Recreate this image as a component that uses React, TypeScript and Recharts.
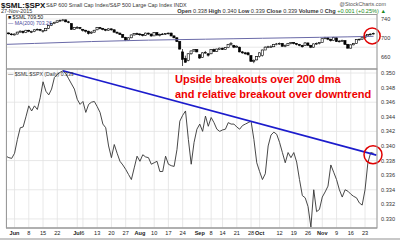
import React from 'react';
import { ComposedChart, Line, Bar, XAxis, YAxis, CartesianGrid, ReferenceLine, ReferenceDot } from 'recharts';

// trading-day index: 0 = 1-Jun-2015, -3 = 27-May-2015, 126 = 27-Nov-2015
const firstDay = -3;

const ratioValues = [
  0.3386, 0.3384, 0.3383, 0.3390, 0.3409, 0.3425, 0.3426, 0.3440, 0.3455, 0.3448,
  0.3455, 0.3450, 0.3466, 0.3488, 0.3475, 0.3470, 0.3478, 0.3494, 0.3498, 0.3501,
  0.3503, 0.3499, 0.3492, 0.3485, 0.3478, 0.3464, 0.3457, 0.3461, 0.3446, 0.3457,
  0.3460, 0.3461, 0.3454, 0.3446, 0.3430, 0.3425, 0.3400, 0.3384, 0.3402, 0.3390,
  0.3379, 0.3374, 0.3368, 0.3361, 0.3354, 0.3370, 0.3386, 0.3379, 0.3388, 0.3385,
  0.3384, 0.3375, 0.3377, 0.3379, 0.3365, 0.3365, 0.3386, 0.3375, 0.3373, 0.3372,
  0.3395, 0.3434, 0.3442, 0.3448, 0.3409, 0.3375, 0.3405, 0.3423, 0.3430, 0.3420,
  0.3441, 0.3427, 0.3439, 0.3432, 0.3423, 0.3420, 0.3422, 0.3423, 0.3432, 0.3430,
  0.3430, 0.3426, 0.3423, 0.3428, 0.3430, 0.3432, 0.3434, 0.3409, 0.3377, 0.3365,
  0.3354, 0.3362, 0.3400, 0.3415, 0.3419, 0.3416, 0.3405, 0.3391, 0.3377, 0.3391,
  0.3384, 0.3391, 0.3378, 0.3354, 0.3332, 0.3329, 0.3317, 0.3289, 0.3340, 0.3310,
  0.3313, 0.3330, 0.3337, 0.3345, 0.3374, 0.3364, 0.3354, 0.3340, 0.3330, 0.3340,
  0.3338, 0.3334, 0.3331, 0.3329, 0.3322, 0.3319, 0.3340, 0.3377, 0.3391, 0.3390,
];

// [open, high, low, close] for $SML
const smlOHLC = [
  [712,713,708,710],[710,712,707,709],[708,710,705,707],[706,709,705,708],[708,713,707,712],
  [712,716,711,714],[714,715,709,711],[711,717,710,716],[716,717,712,714],[713,715,710,713],
  [713,718,712,717],[717,720,716,718],[718,719,714,716],[714,716,711,715],[715,721,714,720],
  [720,727,719,726],[726,731,725,730],[730,734,729,733],[733,737,732,736],[736,739,734,737],
  [737,740,735,738],[738,739,733,734],[734,736,731,733],[730,731,717,718],[718,723,717,722],
  [722,725,719,722],[722,723,718,720],[718,719,713,716],[716,717,711,714],[714,715,707,709],
  [710,714,708,712],[712,717,711,716],[717,723,716,722],[722,723,718,720],[720,721,716,718],
  [718,719,714,716],[716,720,715,719],[719,720,715,717],[717,718,711,712],[712,713,708,710],
  [710,711,706,707],[707,708,700,701],[701,702,693,695],[695,701,694,700],[700,707,699,706],
  [706,710,705,709],[709,711,706,708],[708,710,704,707],[707,708,703,705],[705,711,704,710],
  [710,711,706,708],[708,709,702,704],[704,712,704,711],[711,712,704,706],[706,709,703,707],
  [707,710,706,708],[708,710,706,709],[709,711,707,710],[710,711,703,704],[704,705,699,700],
  [700,701,691,692],[692,693,675,676],[670,676,640,654],[656,662,647,648],[652,667,650,666],
  [666,673,664,672],[672,676,670,675],[675,676,669,670],[664,665,655,657],[658,669,657,668],
  [668,672,666,669],[666,667,660,663],[666,676,665,675],[675,677,670,671],[671,677,670,676],
  [675,679,674,678],[678,679,674,675],[675,680,674,679],[679,687,678,686],[686,691,683,688],
  [684,685,678,680],[680,684,679,682],[680,681,669,670],[670,672,666,668],[668,670,664,666],
  [668,670,662,664],[662,663,649,650],[650,654,646,652],[653,661,652,660],[660,669,658,668],
  [662,675,660,674],[674,682,674,680],[680,683,678,681],[681,684,679,681],[681,687,680,686],
  [686,689,684,687],[687,690,685,688],[688,689,681,682],[682,686,680,684],[684,689,683,688],
  [688,691,686,690],[690,691,686,688],[688,689,684,686],[686,687,682,684],[684,685,679,681],
  [684,691,683,689],[689,690,683,684],[684,685,678,680],[680,688,679,687],[687,690,685,688],
  [688,691,686,690],[690,699,690,698],[698,702,697,700],[700,701,695,697],[697,698,692,694],
  [694,702,693,701],[700,701,691,692],[692,695,690,693],[693,696,692,694],[694,695,685,686],
  [686,687,677,678],[678,686,677,685],[685,689,684,688],[688,697,687,696],[696,698,694,697],
  [697,701,696,700],[700,705,699,704],[704,708,703,707],[707,709,705,708],[708,711,707,709.5],
];

const maDays = [-3, 7, 17, 27, 37, 47, 57, 67, 77, 87, 97, 107, 117, 126];
const maValues = [686, 688, 690, 692, 693.5, 695, 696, 697, 698, 699, 700, 701, 702, 703.2];

const trendDays = [17, 127];
const trendValues = [0.3503, 0.33875];

const tickDays = [0, 5, 10, 15, 22, 24, 29, 34, 39, 44, 49, 54, 59, 65, 69, 73, 78, 83, 86, 93, 98, 103, 108, 113, 118, 123];
const tickLabels = ['Jun', '8', '15', '22', 'Jul', '6', '13', '20', '27', 'Aug', '10', '17', '24', 'Sep', '8', '14', '21', '28', 'Oct', '12', '19', '26', 'Nov', '9', '16', '23'];
const monthLabels = ['Jun', 'Jul', 'Aug', 'Sep', 'Oct', 'Nov'];

const priceTicks = [640, 660, 680, 700, 720, 740];
const ratioTicks = [0.330, 0.332, 0.334, 0.336, 0.338, 0.340, 0.342, 0.344, 0.346, 0.348, 0.350];

const priceDomain = [633.6, 750.6];
const ratioDomain = [0.32876, 0.35055];
const dayDomain = [-3, 127.2];

const data = ratioValues.map((r, k) => {
  const day = firstDay + k;
  const [o, h, l, c] = smlOHLC[k];
  const mi = maDays.indexOf(day);
  return { day, ratio: r, o, c, range: [l, h], ma: mi >= 0 ? maValues[mi] : null };
});

const FONT = '"Liberation Sans", Arial, sans-serif';

const Candle = (props: any) => {
  const { x, y, width, height, payload } = props;
  if (!payload || height == null || isNaN(y)) return null;
  const lo = payload.range[0];
  const hi = payload.range[1];
  const top0 = height >= 0 ? y : y + height;
  const h = Math.abs(height);
  const k = h / (hi - lo);
  const bTop = top0 + (hi - Math.max(payload.o, payload.c)) * k;
  const bBot = top0 + (hi - Math.min(payload.o, payload.c)) * k;
  const cx = x + width / 2;
  const up = payload.c >= payload.o;
  return (
    <g>
      <line x1={cx} x2={cx} y1={top0} y2={top0 + h} stroke="#000" strokeWidth={0.7} />
      <rect x={cx - 1.1} y={bTop} width={2.2} height={Math.max(bBot - bTop, 0.7)} fill={up ? '#fff' : '#000'} stroke="#000" strokeWidth={0.6} />
    </g>
  );
};

const XTick = (props: any) => {
  const { x, y, payload } = props;
  const idx = tickDays.indexOf(payload.value);
  const label = idx >= 0 ? tickLabels[idx] : '';
  const isMonth = monthLabels.includes(label);
  return (
    <text x={x} y={y} dy="0.71em" textAnchor="middle" fontSize={5.6} fontFamily={FONT} fontWeight={isMonth ? 'bold' : 'normal'} fill="#222">
      {label}
    </text>
  );
};

export default function App() {
  return (
    <div style={{ position: 'fixed', left: 0, top: 0, width: 400, height: 240, background: '#fff', overflow: 'hidden' }}>
      <div style={{ position: 'absolute', left: 0, top: 14 }}>
        <ComposedChart width={400} height={55} data={data} margin={{ top: 0, right: 0, bottom: 0, left: 6 }}>
          <CartesianGrid stroke="#e2e2e2" strokeWidth={0.8} />
          <XAxis dataKey="day" type="number" domain={dayDomain} ticks={tickDays} height={0} tick={false} axisLine={false} tickLine={false} allowDataOverflow />
          <YAxis orientation="right" width={23} domain={priceDomain} ticks={priceTicks} allowDataOverflow axisLine={false} tickLine={false} tickSize={0} tickMargin={4} tick={{ fontSize: 5.6, fill: '#333', fontFamily: FONT }} />
          <Line dataKey="ma" stroke="#6a6aa8" strokeWidth={1} dot={false} connectNulls isAnimationActive={false} />
          <Bar dataKey="range" barSize={3} shape={Candle} isAnimationActive={false} />
          <ReferenceDot x={125.5} y={704} r={8} fill="none" stroke="#e00000" strokeWidth={1.5} ifOverflow="visible" />
        </ComposedChart>
      </div>
      <div style={{ position: 'absolute', left: 0, top: 69 }}>
        <ComposedChart width={400} height={171} data={data} margin={{ top: 0, right: 0, bottom: 0, left: 6 }}>
          <CartesianGrid stroke="#e2e2e2" strokeWidth={0.8} />
          <XAxis dataKey="day" type="number" domain={dayDomain} ticks={tickDays} height={12} interval={0} axisLine={{ stroke: '#999' }} tickLine={false} tickSize={0} tickMargin={3} tick={<XTick />} allowDataOverflow />
          <YAxis orientation="right" width={23} domain={ratioDomain} ticks={ratioTicks} allowDataOverflow axisLine={false} tickLine={false} tickSize={0} tickMargin={4} tickFormatter={(v: number) => v.toFixed(3)} tick={{ fontSize: 5.6, fill: '#333', fontFamily: FONT }} />
          <Line dataKey="ratio" stroke="#333" strokeWidth={0.9} dot={false} isAnimationActive={false} />
          <ReferenceLine segment={[{ x: trendDays[0], y: trendValues[0] }, { x: trendDays[1], y: trendValues[1] }]} stroke="#1c1ccc" strokeWidth={1.6} ifOverflow="visible" />
          <ReferenceDot x={125.8} y={0.3388} r={9} fill="none" stroke="#e00000" strokeWidth={1.5} ifOverflow="visible" />
        </ComposedChart>
      </div>
      <svg width={400} height={240} style={{ position: 'absolute', left: 0, top: 0, pointerEvents: 'none' }}>
        <rect x={6.5} y={14.5} width={370.5} height={54.5} fill="none" stroke="#9a9a9a" strokeWidth={1} />
        <rect x={6.5} y={69} width={370.5} height={159} fill="none" stroke="#9a9a9a" strokeWidth={1} />
        <rect x={0} y={238} width={400} height={2} fill="#c8c8c8" />
        <text x={1} y={7.5} fontFamily={FONT} fontSize={8} fontWeight="bold" fill="#111">$SML:$SPX</text>
        <text x={46} y={7} fontFamily={FONT} fontSize={5.4} fill="#333">{'S&P 600 Small Cap Index/S&P 500 Large Cap Index INDX'}</text>
        <text x={386} y={5.5} fontFamily={FONT} fontSize={5.4} fill="#555" textAnchor="end">@StockCharts.com</text>
        <text x={1} y={13} fontFamily={FONT} fontSize={5.4} fill="#333">27-Nov-2015</text>
        <text x={386} y={13} fontFamily={FONT} fontSize={5.6} fill="#333" textAnchor="end">
          <tspan fontWeight="bold">Open</tspan> 0.338 <tspan fontWeight="bold">High</tspan> 0.340 <tspan fontWeight="bold">Low</tspan> 0.339 <tspan fontWeight="bold">Close</tspan> 0.339 <tspan fontWeight="bold">Volume</tspan> 0 <tspan fontWeight="bold">Chg</tspan> <tspan fill="#1a8a1a">+0.001 (+0.25%) ▲</tspan>
        </text>
        <text x={8} y={19} fontFamily={FONT} fontSize={5.2} fill="#111">■ $SML 709.50</text>
        <text x={8} y={24.5} fontFamily={FONT} fontSize={5.2} fill="#4a4a9a">— MA(200) 703.26</text>
        <text x={8} y={75.5} fontFamily={FONT} fontSize={5.2} fill="#333">— $SML:$SPX (Daily) 0.339</text>
        <text x={175} y={83} fontFamily={FONT} fontSize={11} fontWeight="bold" fill="#ee0000">Upside breakouts over 200 dma</text>
        <text x={175} y={98} fontFamily={FONT} fontSize={11} fontWeight="bold" fill="#ee0000">and relative breakout over downtrend</text>
      </svg>
    </div>
  );
}
